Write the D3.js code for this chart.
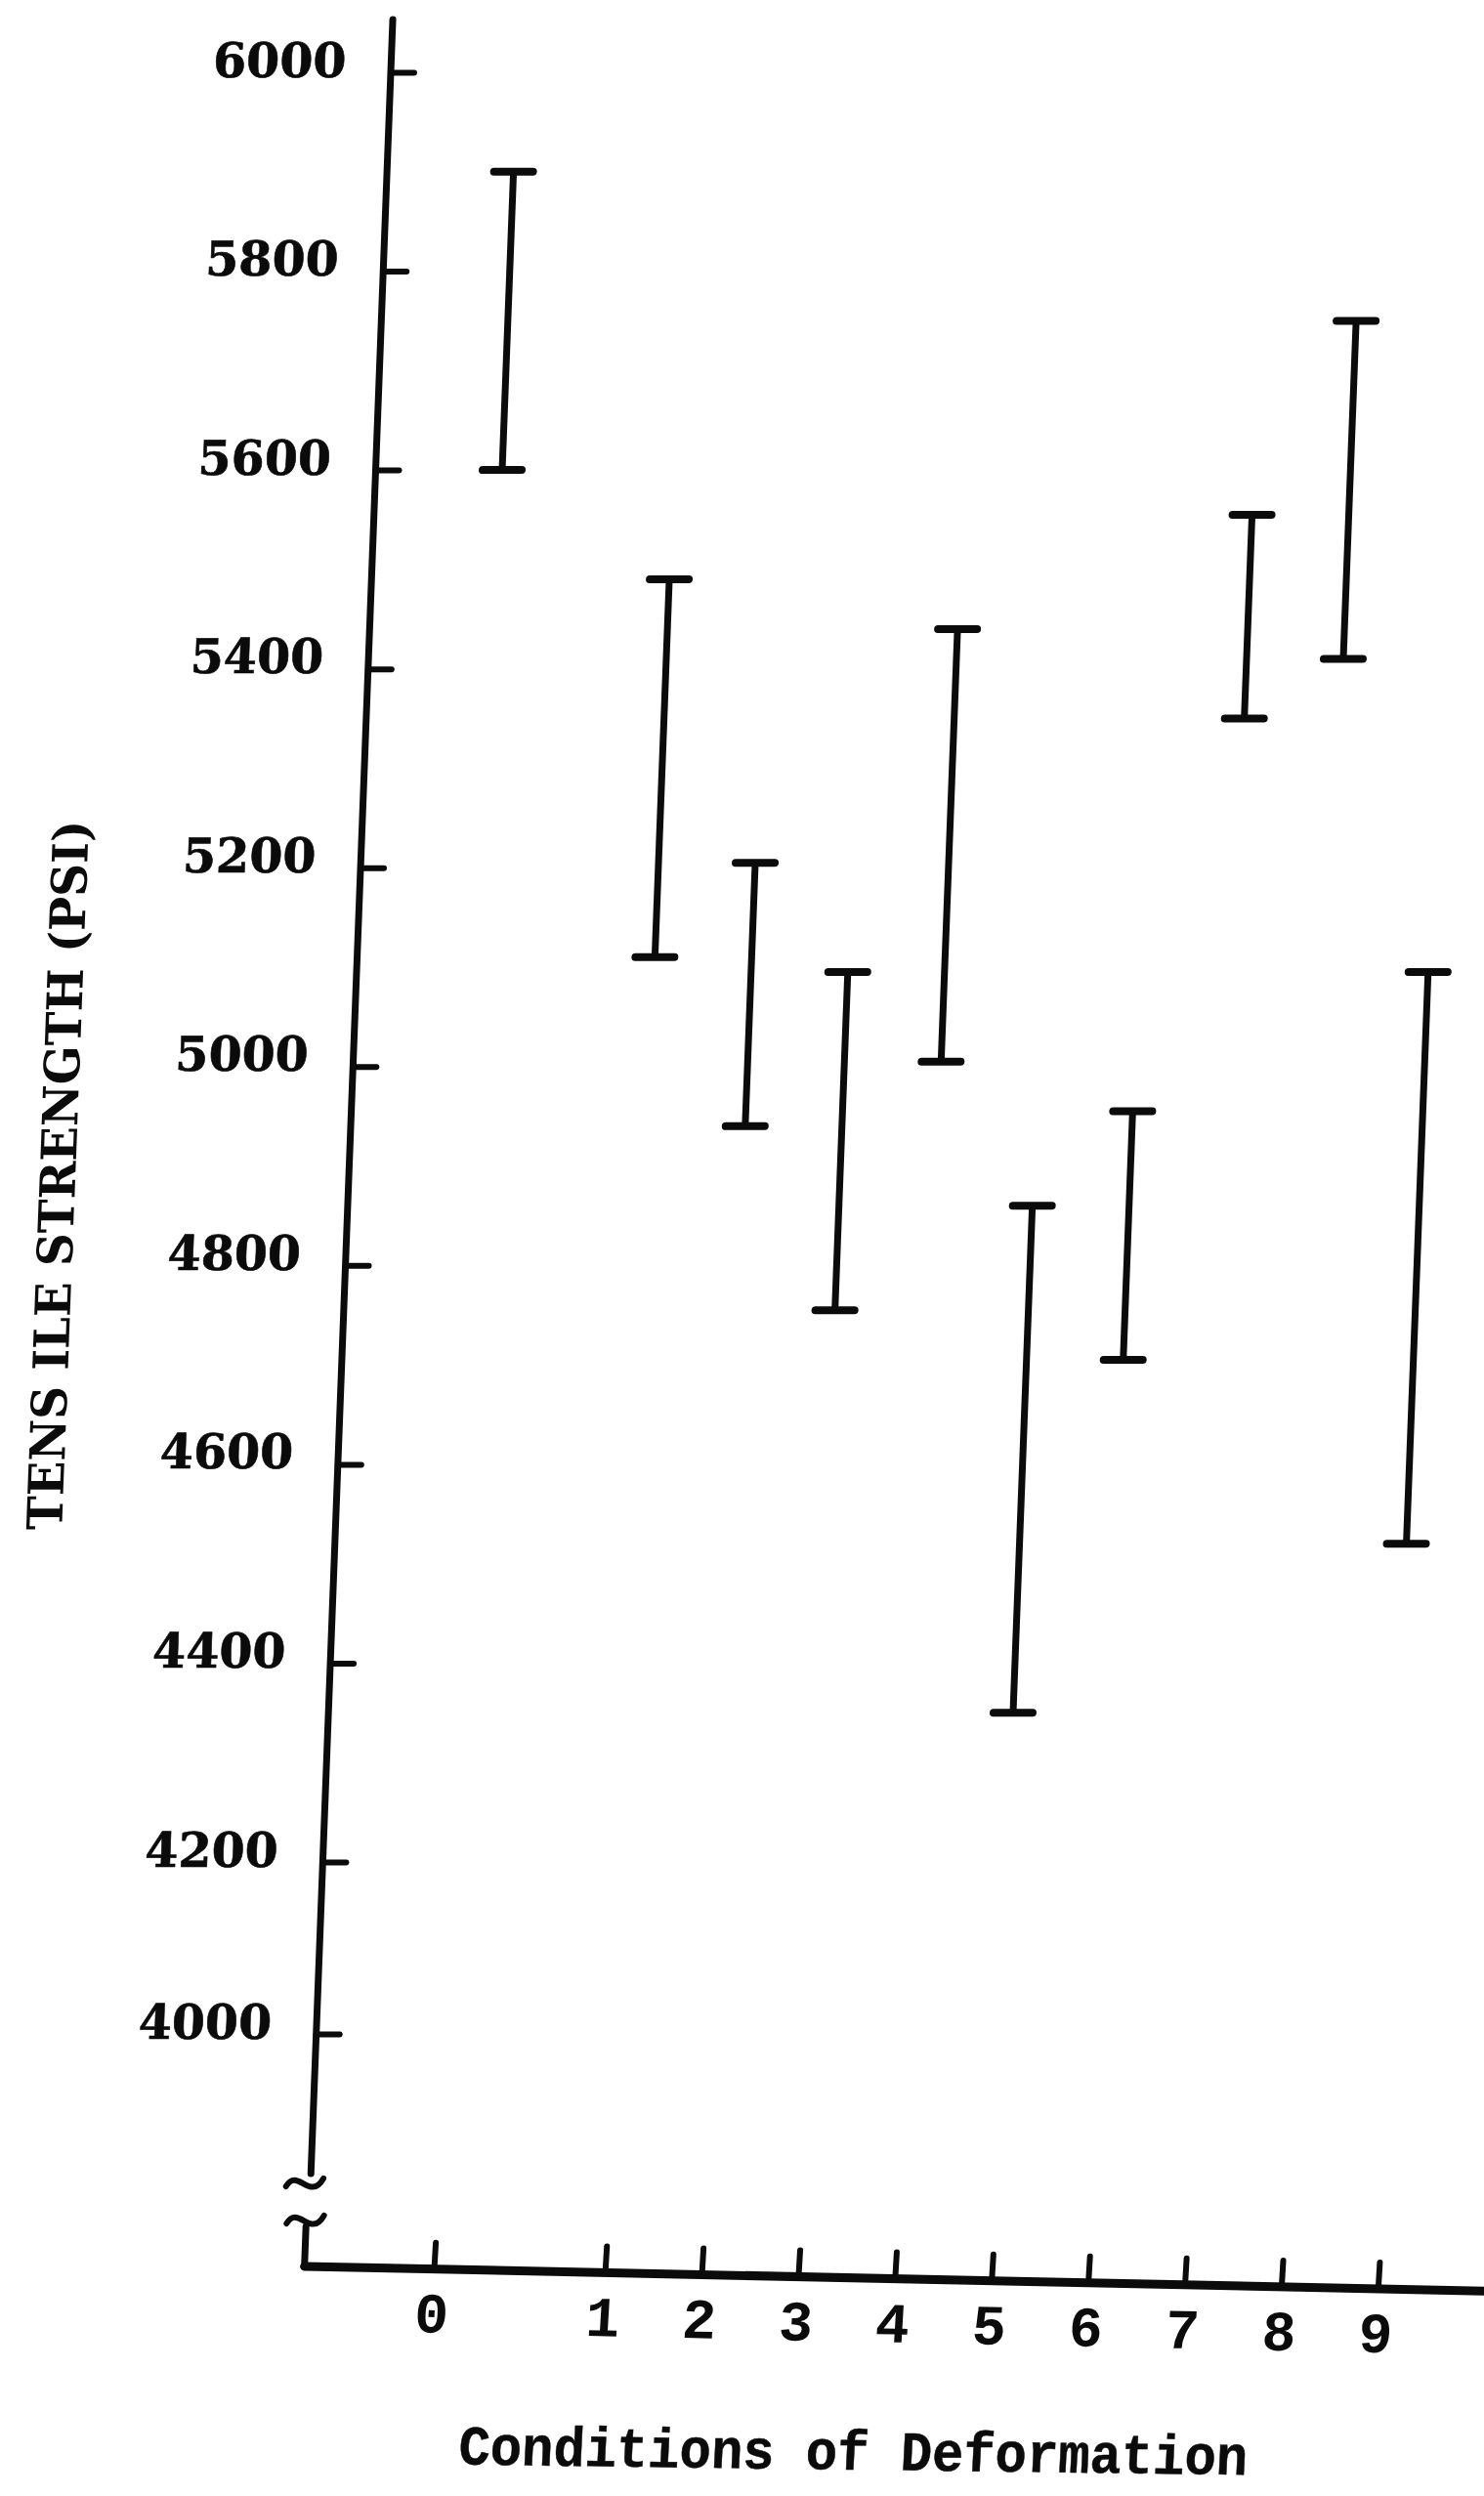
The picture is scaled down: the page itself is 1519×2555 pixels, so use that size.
<!DOCTYPE html>
<html>
<head>
<meta charset="utf-8">
<script src="https://cdn.jsdelivr.net/npm/d3@7"></script>
<style>
  html, body { margin: 0; padding: 0; background: #ffffff; }
  svg { display: block; }
</style>
</head>
<body>
<svg id="chart" width="1519" height="2555"></svg>
<script>
// ---------- data ----------
const conditions   = [0, 1, 2, 3, 4, 5, 6, 7, 8, 9];
const lowValues    = [5600, 5110, 4940, 4755, 5005, 4350, 4705, 5350, 5410, 4520];
const highValues   = [5900, 5490, 5205, 5095, 5440, 4860, 4955, 5555, 5750, 5095];
const yTickValues  = [4000, 4200, 4400, 4600, 4800, 5000, 5200, 5400, 5600, 5800, 6000];
const yTickLabels  = ["4000", "4200", "4400", "4600", "4800", "5000", "5200", "5400", "5600", "5800", "6000"];
const xTickLabels  = ["0", "1", "2", "3", "4", "5", "6", "7", "8", "9"];
const yTitle = "TENS ILE STRENGTH (PSI)";
const xTitle = "Conditions of Deformation";

// ---------- layout ----------
const W = 1519, H = 2555;
const skew = 0.038;          // the scanned page leans: verticals tilt left going down
const originX = 402.8;
const axisTop = 20, breakTop = 2225, cornerY = 2320;
const ink = "#0b0b0b";

const svg = d3.select("#chart");
svg.append("rect").attr("width", W).attr("height", H).attr("fill", "#ffffff");

const g = svg.append("g")
  .attr("transform", `matrix(1,0,${-skew},1,${originX},0)`);

const y = d3.scaleLinear().domain([4000, 4200, 6000]).range([2082, 1906, 74]);
const x = d3.scaleLinear().domain([0, 1, 9]).range([129.5, 304.8, 1096.8]);

// ---------- y axis ----------
const yAxisG = g.append("g")
  .call(d3.axisRight(y)
    .tickValues(yTickValues)
    .tickSize(24)
    .tickFormat(d => yTickLabels[yTickValues.indexOf(d)]));
yAxisG.select(".domain").remove();
yAxisG.attr("color", ink)
  .attr("font-family", "'DejaVu Serif', serif")
  .attr("font-size", 49)
  .attr("font-weight", "bold");
yAxisG.selectAll(".tick line")
  .attr("stroke", ink).attr("stroke-width", 6).attr("stroke-linecap", "round");
yAxisG.selectAll(".tick text")
  .attr("x", -46).attr("y", 4).attr("dy", null)
  .attr("text-anchor", "end")
  .attr("stroke", ink).attr("stroke-width", 0.6);

// axis line with break symbol
g.append("line")
  .attr("x1", 0).attr("x2", 0).attr("y1", axisTop).attr("y2", breakTop)
  .attr("stroke", ink).attr("stroke-width", 7).attr("stroke-linecap", "round");
g.append("line")
  .attr("x1", -3).attr("x2", -3).attr("y1", 2279).attr("y2", cornerY)
  .attr("stroke", ink).attr("stroke-width", 7).attr("stroke-linecap", "round");

function tilde(cx, cy) {
  const p = d3.path();
  p.moveTo(cx - 19, cy + 4);
  p.bezierCurveTo(cx - 8, cy - 16, cx + 6, cy + 20, cx + 19, cy - 4);
  return p.toString();
}
[[-6, 2234], [-4, 2272]].forEach(([cx, cy]) => {
  g.append("path").attr("d", tilde(cx, cy))
    .attr("fill", "none").attr("stroke", ink)
    .attr("stroke-width", 6).attr("stroke-linecap", "round");
});

// y title
g.append("text")
  .attr("transform", "translate(-280,1203) rotate(-90)")
  .attr("text-anchor", "middle")
  .attr("font-family", "'DejaVu Serif', serif")
  .attr("font-weight", "bold")
  .attr("font-size", 50)
  .attr("textLength", 726)
  .attr("lengthAdjust", "spacingAndGlyphs")
  .attr("fill", ink)
  .text(yTitle);

// ---------- x axis ----------
const xg = g.append("g").attr("transform", `translate(0,${cornerY}) rotate(1.2)`);
xg.call(d3.axisBottom(x)
  .tickValues(conditions)
  .tickSize(-27)
  .tickFormat((d, i) => xTickLabels[i]));
xg.select(".domain").remove();
xg.attr("color", ink)
  .attr("font-family", "'Liberation Mono', 'DejaVu Sans Mono', monospace")
  .attr("font-size", 58)
  .attr("font-weight", "bold");
xg.selectAll(".tick line")
  .attr("stroke", ink).attr("stroke-width", 6).attr("stroke-linecap", "round");
xg.selectAll(".tick text").attr("y", 65).attr("dy", null);
xg.append("line")
  .attr("x1", -3).attr("x2", 1260).attr("y1", 0).attr("y2", 0)
  .attr("stroke", ink).attr("stroke-width", 9).attr("stroke-linecap", "round");

xg.append("text")
  .attr("transform", "translate(570,196) rotate(-0.45)")
  .attr("text-anchor", "middle")
  .attr("font-family", "'Liberation Mono', 'DejaVu Sans Mono', monospace")
  .attr("font-size", 57)
  .attr("textLength", 808)
  .attr("lengthAdjust", "spacingAndGlyphs")
  .attr("fill", ink)
  .attr("stroke", ink).attr("stroke-width", 0.5)
  .text(xTitle);

// ---------- error bars ----------
const capHalf = 20;
const bars = g.append("g").selectAll("g.bar")
  .data(conditions)
  .join("g").attr("class", "bar");

bars.append("line")
  .attr("x1", d => x(d)).attr("x2", d => x(d))
  .attr("y1", (d, i) => y(highValues[i]))
  .attr("y2", (d, i) => y(lowValues[i]))
  .attr("stroke", ink).attr("stroke-width", 7);

bars.append("line")
  .attr("x1", d => x(d) - capHalf).attr("x2", d => x(d) + capHalf)
  .attr("y1", (d, i) => y(highValues[i])).attr("y2", (d, i) => y(highValues[i]))
  .attr("stroke", ink).attr("stroke-width", 8).attr("stroke-linecap", "round");

bars.append("line")
  .attr("x1", d => x(d) - capHalf).attr("x2", d => x(d) + capHalf)
  .attr("y1", (d, i) => y(lowValues[i])).attr("y2", (d, i) => y(lowValues[i]))
  .attr("stroke", ink).attr("stroke-width", 8).attr("stroke-linecap", "round");
</script>
</body>
</html>
